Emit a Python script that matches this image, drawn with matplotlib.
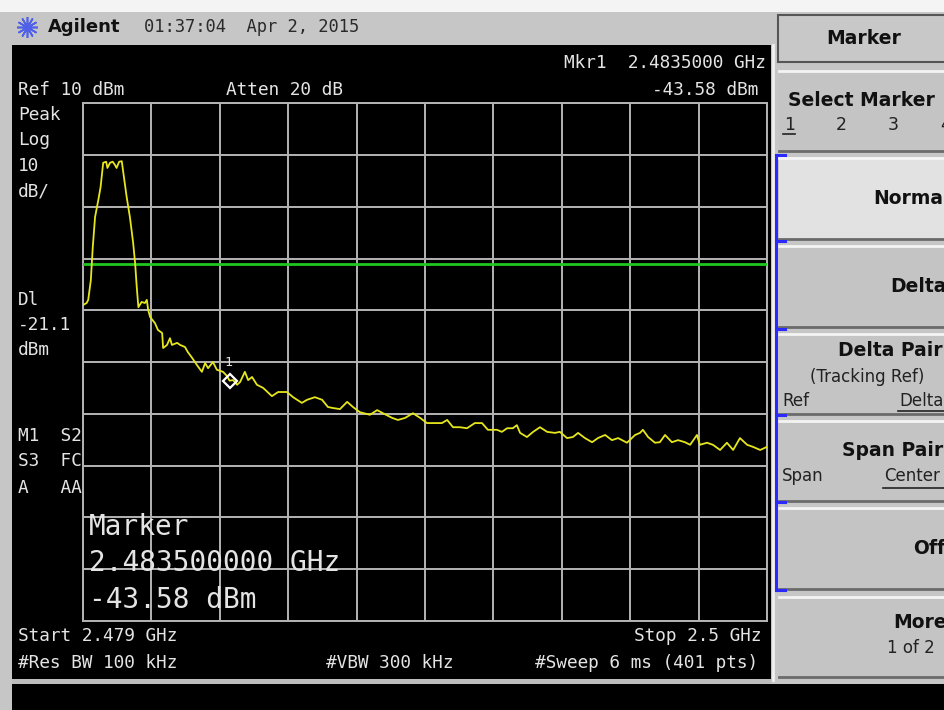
import matplotlib
matplotlib.use("Agg")
import matplotlib.pyplot as plt
from matplotlib.patches import Rectangle
from matplotlib.lines import Line2D
import numpy as np

W, H = 944, 710

# ---------------- data ----------------
start_ghz = 2.479
stop_ghz = 2.500
ref_level_dbm = 10
db_per_div = 10
n_div = 10
display_line_dbm = -21.1
marker_ghz = 2.4835
marker_dbm = -43.58
atten_db = 20
res_bw_khz = 100
vbw_khz = 300
sweep_ms = 6
sweep_pts = 401

trace_offset_mhz = [
    0.00, 0.11, 0.16, 0.24, 0.30, 0.37, 0.47, 0.54, 0.62, 0.71, 0.75, 0.83,
    0.91, 0.98, 1.03, 1.11, 1.19, 1.24, 1.34, 1.44, 1.54, 1.60, 1.65, 1.70,
    1.80, 1.90, 1.96, 2.00, 2.06, 2.21, 2.30, 2.43, 2.46, 2.58, 2.67, 2.73,
    2.89, 2.98, 3.13, 3.22, 3.35, 3.50, 3.65, 3.75, 3.84, 3.99, 4.11, 4.30,
    4.42, 4.50, 4.61, 4.73, 4.82, 4.97, 5.07, 5.19, 5.34, 5.53, 5.80, 5.99,
    6.26, 6.45, 6.72, 6.88, 7.12, 7.34, 7.52, 7.68, 7.89, 8.11, 8.29, 8.50,
    8.81, 9.03, 9.21, 9.49, 9.67, 9.89, 10.13, 10.35, 10.56, 10.81, 11.02,
    11.18, 11.36, 11.57, 11.79, 12.03, 12.25, 12.43, 12.71, 12.86, 13.02,
    13.20, 13.32, 13.42, 13.63, 13.82, 14.03, 14.25, 14.49, 14.64, 14.86,
    15.04, 15.20, 15.41, 15.63, 15.81, 16.03, 16.24, 16.43, 16.70, 16.95,
    17.10, 17.19, 17.35, 17.56, 17.71, 17.87, 18.08, 18.27, 18.48, 18.64,
    18.85, 18.94, 19.16, 19.34, 19.56, 19.77, 19.96, 20.17, 20.39, 20.57,
    20.79, 21.00,
]
trace_dbm = [
    -29.0, -28.6, -28.0, -24.2, -17.8, -12.0, -8.7, -6.2, -1.5, -1.3, -2.5, -1.5,
    -1.3, -1.9, -2.5, -1.3, -1.2, -3.5, -8.1, -12.0, -17.0, -20.9, -25.5, -29.4,
    -28.4, -28.6, -28.0, -29.9, -31.3, -32.5, -33.8, -34.4, -37.3, -36.7, -35.4, -36.7,
    -36.3, -36.7, -37.1, -38.1, -39.2, -40.6, -41.9, -40.2, -41.2, -40.0, -41.5, -41.9,
    -42.7, -43.6, -43.5, -44.4, -43.9, -41.9, -43.5, -42.9, -44.4, -45.0, -46.6, -45.8,
    -45.8, -46.8, -47.9, -47.3, -46.8, -47.3, -48.7, -48.9, -49.1, -47.7, -48.7, -49.7,
    -50.2, -49.3, -49.9, -50.8, -51.2, -50.8, -49.9, -50.8, -51.8, -51.8, -51.8,
    -51.2, -52.6, -52.6, -52.8, -51.8, -51.8, -53.1, -53.1, -53.5, -52.8,
    -52.8, -52.2, -53.7, -54.5, -53.5, -52.6, -53.5, -53.7, -53.5, -54.7,
    -54.5, -53.7, -54.7, -55.5, -54.7, -54.1, -55.1, -54.7, -55.6, -54.1,
    -53.7, -53.1, -54.5, -55.6, -55.5, -54.1, -55.5, -55.1, -55.5, -56.0,
    -54.1, -56.0, -55.6, -56.0, -57.0, -55.6, -57.0, -54.7, -56.0, -56.4,
    -57.0, -56.4,
]

softkeys = ["Select Marker", "Normal", "Delta", "Delta Pair", "Span Pair", "Off", "More"]

# ---------------- helpers ----------------
def fx(x):
    return x / W

def fy(y):
    return 1 - y / H

fig = plt.figure(figsize=(W / 100, H / 100), dpi=100, facecolor="#c6c6c6")

def rect(x0, y0, x1, y1, color, z=0, ec="none", lw=0):
    fig.add_artist(Rectangle((fx(x0), fy(y1)), fx(x1) - fx(x0), fy(y0) - fy(y1),
                             transform=fig.transFigure, facecolor=color,
                             edgecolor=ec, linewidth=lw, zorder=z))

def hline(x0, x1, y, color, lw=1.5, z=3):
    fig.add_artist(Line2D([fx(x0), fx(x1)], [fy(y), fy(y)], transform=fig.transFigure,
                          color=color, lw=lw, zorder=z))

def vline(x, y0, y1, color, lw=1.5, z=3):
    fig.add_artist(Line2D([fx(x), fx(x)], [fy(y0), fy(y1)], transform=fig.transFigure,
                          color=color, lw=lw, zorder=z))

MONO = "DejaVu Sans Mono"
SCR = "#e4e4e4"

def stext(x, y, s, ha="left", size=12.8, color=SCR, family=MONO, weight="normal"):
    fig.text(fx(x), fy(y), s, ha=ha, va="center", fontsize=size, color=color,
             family=family, fontweight=weight, zorder=10)

# ---------------- frame / background ----------------
rect(0, 0, W, 12, "#f4f4f4", z=0)
rect(12, 45, 771, 679, "black", z=1)
rect(12, 679, 771, 684, "#bdbdbd", z=1)
rect(12, 684, W, H, "black", z=1)
vline(773, 45, 680, "#f0f0f0", lw=2)

# header
fig.add_artist(Line2D([fx(27)], [fy(27)], transform=fig.transFigure, marker=(12, 2, 0),
                      ms=15, mew=1.2, color="#5060e8", zorder=5))
stext(48, 27, "Agilent", size=13, color="#111111", family="DejaVu Sans", weight="bold")
stext(144, 27, "01:37:04  Apr 2, 2015", size=12.3, color="#2a2a2a")

# ---------------- softkey panel ----------------
btn_y = [(70, 152), (157, 240), (245, 328), (333, 415), (420, 502), (507, 590), (596, 678)]
rect(778, 15, W + 5, 62, "#c8c8c8", z=2, ec="#555555", lw=1.5)
stext(864, 38, "Marker", ha="center", size=13.5, color="#111111", family="DejaVu Sans", weight="bold")
for i, (y0, y1) in enumerate(btn_y):
    face = "#e2e2e2" if softkeys[i] == "Normal" else "#c4c4c4"
    rect(779, y0, W, y1, face, z=2)
    hline(779, W, y0 + 1, "#f4f4f4", lw=2, z=3)
    hline(779, W, y1 - 1, "#6a6a6a", lw=2, z=3)

BK = "#111111"
SANS = "DejaVu Sans"
stext(788, 100, "Select Marker", size=13.5, color=BK, family=SANS, weight="bold")
for j, xx in enumerate([784, 836, 888, 940]):
    stext(xx, 125, str(j + 1), size=12.5, color="#222222", family=SANS)
hline(783, 795, 134, "#222222", lw=1.2)
stext(873, 198, "Normal", size=13.5, color=BK, family=SANS, weight="bold")
stext(890, 287, "Delta", size=13.5, color=BK, family=SANS, weight="bold")
stext(838, 351, "Delta Pair", size=13.5, color=BK, family=SANS, weight="bold")
stext(810, 377, "(Tracking Ref)", size=12, color="#222222", family=SANS)
stext(782, 401, "Ref", size=12, color="#222222", family=SANS)
stext(899, 401, "Delta", size=12, color="#222222", family=SANS)
hline(898, W, 411, "#222222", lw=1.2)
stext(842, 450, "Span Pair", size=13.5, color=BK, family=SANS, weight="bold")
stext(782, 476, "Span", size=12, color="#222222", family=SANS)
stext(884, 476, "Center", size=12, color="#222222", family=SANS)
hline(883, W, 488, "#222222", lw=1.2)
stext(913, 548, "Off", size=13.5, color=BK, family=SANS, weight="bold")
stext(893, 623, "More", size=13.5, color=BK, family=SANS, weight="bold")
stext(887, 648, "1 of 2", size=12, color="#222222", family=SANS)

# blue bracket
BL = "#2a2aff"
vline(776, 155, 590, BL, lw=2.2, z=4)
for yy in [155, 241, 329, 415, 502, 590]:
    hline(776, 785, yy, BL, lw=2.2, z=4)

# ---------------- trace axes ----------------
ax = fig.add_axes([fx(83), fy(620.75), fx(767) - fx(83), fy(103.25) - fy(620.75)], zorder=5)
ax.set_facecolor("black")
ax.set_xlim(start_ghz, stop_ghz)
bottom_dbm = ref_level_dbm - n_div * db_per_div
ax.set_ylim(bottom_dbm, ref_level_dbm)
ax.set_xticks(np.linspace(start_ghz, stop_ghz, n_div + 1))
ax.set_yticks(np.linspace(bottom_dbm, ref_level_dbm, n_div + 1))
ax.tick_params(length=0, labelbottom=False, labelleft=False)
ax.grid(True, color="#b4b4b4", lw=1.4)
for sp in ax.spines.values():
    sp.set_color("#b4b4b4")
    sp.set_linewidth(1.4)

freqs = start_ghz + np.array(trace_offset_mhz) / 1000.0
ax.axhline(display_line_dbm, color="#1fc81f", lw=2, zorder=3)
ax.plot(freqs, trace_dbm, color="#e6e61c", lw=1.3, zorder=4)
ax.plot([marker_ghz], [marker_dbm], marker="D", ms=7, mfc="none", mec="white", mew=1.6, zorder=6)
ax.annotate("1", (marker_ghz, marker_dbm), xytext=(-1, 8), textcoords="offset points",
            color="#dddddd", fontsize=9.5, ha="center", va="bottom", family=MONO, zorder=6)

# ---------------- screen annotations ----------------
stext(18, 90, f"Ref {ref_level_dbm} dBm")
stext(226, 90, f"Atten {atten_db} dB")
stext(766, 63, f"Mkr1  {marker_ghz:.7f} GHz", ha="right")
stext(758, 90, f"{marker_dbm:.2f} dBm", ha="right")
stext(18, 115, "Peak")
stext(18, 140, "Log")
stext(18, 166, f"{db_per_div}")
stext(18, 191, "dB/")
stext(18, 300, "Dl")
stext(18, 325, f"{display_line_dbm}")
stext(18, 350, "dBm")
stext(18, 436, "M1  S2")
stext(18, 461, "S3  FC")
stext(18, 488, "A   AA")
stext(18, 636, f"Start {start_ghz} GHz")
stext(762, 636, f"Stop {stop_ghz} GHz", ha="right")
stext(18, 663, f"#Res BW {res_bw_khz} kHz")
stext(326, 663, f"#VBW {vbw_khz} kHz")
stext(758, 663, f"#Sweep {sweep_ms} ms ({sweep_pts} pts)", ha="right")

stext(89, 527, "Marker", size=20)
stext(89, 563, f"{marker_ghz:.9f} GHz", size=20)
stext(89, 600, f"{marker_dbm:.2f} dBm", size=20)

fig.savefig("out.png", dpi=100, facecolor=fig.get_facecolor())
